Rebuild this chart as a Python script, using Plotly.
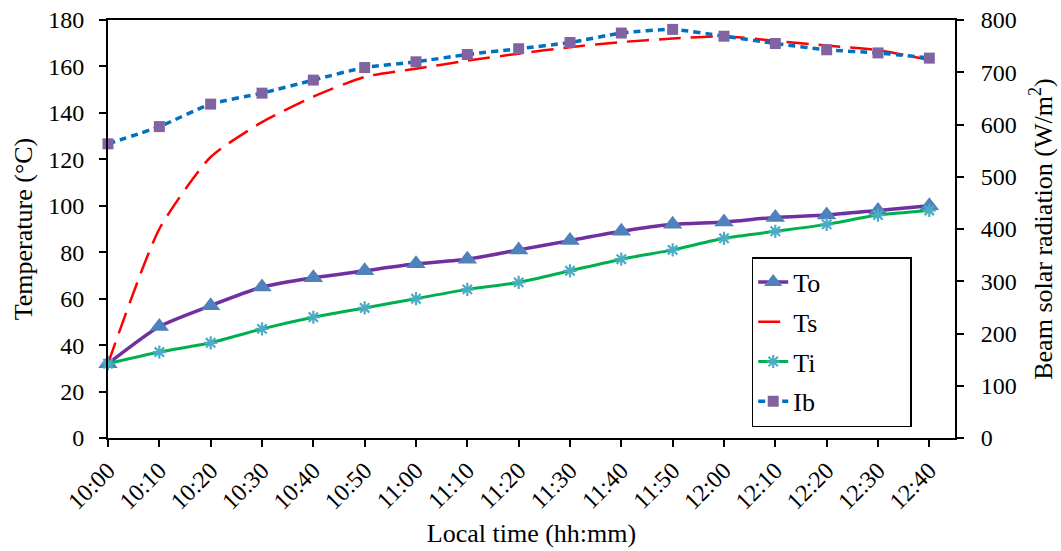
import plotly.graph_objects as go

times = ["10:00", "10:10", "10:20", "10:30", "10:40", "10:50", "11:00", "11:10", "11:20",
         "11:30", "11:40", "11:50", "12:00", "12:10", "12:20", "12:30", "12:40"]
To = [32, 48, 57, 65, 69, 72, 75, 77, 81, 85, 89, 92, 93, 95, 96, 98, 100]
Ts = [32, 90, 121, 136, 147, 155.5, 159, 162.5, 165.5, 168.3, 170.5, 172, 173, 171, 169, 167, 162.8]
Ti = [32, 37, 41, 47, 52, 56, 60, 64, 67, 72, 77, 81, 86, 89, 92, 96, 98]
Ib = [563, 596, 639, 660, 685, 709, 720, 734, 745, 757, 775, 782, 769, 755, 743, 737, 727]

FONT = "Liberation Serif"
TICK_FS = 24
TITLE_FS = 26
PAD = "\u00a0" * 13

fig = go.Figure()
fig.add_trace(go.Scatter(
    x=times, y=To, name="To" + PAD, mode="lines+markers", legendgroup="a",
    line=dict(color="#7030A0", width=3.5, shape="spline", smoothing=0.6),
    marker=dict(symbol="triangle-up", size=17, color="#4F81BD"), cliponaxis=False))
fig.add_trace(go.Scatter(
    x=times, y=Ts, name="Ts" + PAD, mode="lines", legendgroup="b",
    line=dict(color="#FF0000", width=2.5, dash="22px,10px", shape="spline", smoothing=0.6),
    cliponaxis=False))
fig.add_trace(go.Scatter(
    x=times, y=Ti, name="Ti" + PAD, mode="lines+markers", legendgroup="c",
    line=dict(color="#00B050", width=3, shape="spline", smoothing=0.6),
    marker=dict(symbol="asterisk", size=11, line=dict(color="#4BACC6", width=2.2)), cliponaxis=False))
fig.add_trace(go.Scatter(
    x=times, y=Ib, name="Ib" + PAD, mode="lines+markers", yaxis="y2", legendgroup="d",
    line=dict(color="#0070C0", width=3.5, dash="7px,5px", shape="spline", smoothing=0.6),
    marker=dict(symbol="square", size=11, color="#8064A2"), cliponaxis=False))

axis_common = dict(showgrid=False, zeroline=False, showline=True, linecolor="black", linewidth=2,
                   ticks="outside", ticklen=7, tickwidth=2, tickcolor="black", automargin=False,
                   tickfont=dict(family=FONT, size=TICK_FS, color="black"))

fig.update_layout(
    width=1061, height=551,
    margin=dict(l=108, r=106, t=20, b=113),
    paper_bgcolor="white", plot_bgcolor="white",
    font=dict(family=FONT, size=TITLE_FS, color="black"),
    xaxis=dict(type="category", range=[0, 16.5], tickangle=-45, mirror=True,
               title=dict(text="Local time (hh:mm)", font=dict(family=FONT, size=TITLE_FS), standoff=10),
               **axis_common),
    yaxis=dict(range=[0, 180], dtick=20, ticklabelstandoff=10,
               title=dict(text="Temperature (°C)", font=dict(family=FONT, size=TITLE_FS), standoff=8),
               **axis_common),
    yaxis2=dict(range=[0, 800], dtick=100, overlaying="y", side="right", ticklabelstandoff=12,
                title=dict(text="Beam solar radiation (W/m<sup>2</sup>)", font=dict(family=FONT, size=TITLE_FS), standoff=18),
                **axis_common),
    legend=dict(x=0.76, y=0.433, xanchor="left", yanchor="top",
                bordercolor="black", borderwidth=1.5, bgcolor="white",
                font=dict(family=FONT, size=TITLE_FS), tracegroupgap=3),
    showlegend=True,
)

fig.write_html("out.html", post_script="document.body.style.margin='0px';",
               config={"displayModeBar": False})
